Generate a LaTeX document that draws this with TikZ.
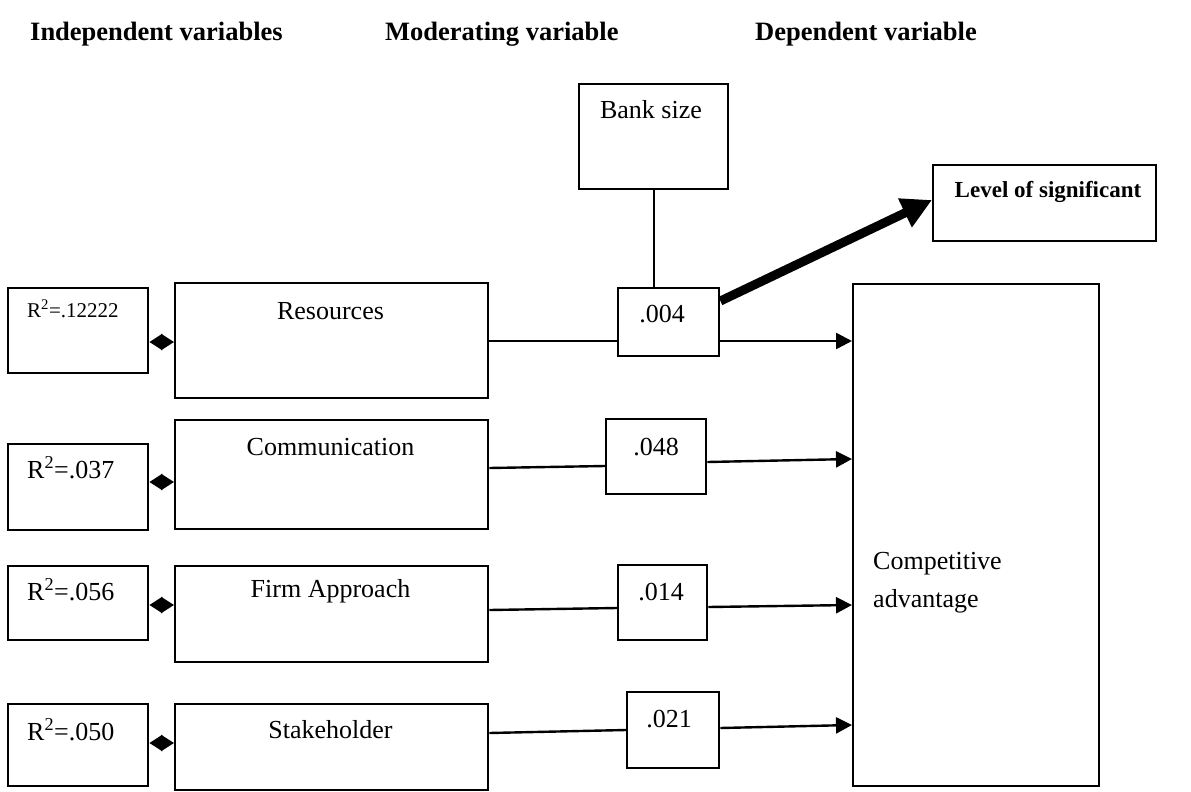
\documentclass[tikz,border=0pt]{standalone}
\usepackage{fontspec}
\setmainfont{Liberation Serif}
\usetikzlibrary{arrows.meta,calc}
\begin{document}
\begin{tikzpicture}[x=1pt,y=-1pt,
 box/.style={draw, line width=2.4pt, inner sep=0pt, anchor=north west},
 txt/.style={inner sep=0pt, anchor=base, font=\fontsize{26}{31}\selectfont},
 rtxt/.style={inner sep=0pt, anchor=base west, font=\fontsize{26}{31}\selectfont},
 head/.style={inner sep=0pt, anchor=base west, font=\fontsize{26.5}{32}\selectfont\bfseries},
 conn/.style={line width=2.4pt},
 arr/.style={line width=2.4pt, -{Triangle[length=16pt,width=16pt]}},
 dia/.style={line width=2.4pt, {Triangle[length=13pt,width=16pt]}-{Triangle[length=13pt,width=16pt]}},
 big/.style={line width=9pt, -{Triangle[length=30pt,width=30pt]}}]

\useasboundingbox (0,0) rectangle (1191,792);

% headings
\node[head] (h1) at (30,41) {Independent variables};
\node[head] (h2) at (385,41) {Moderating variable};
\node[head] (h3) at (755,41) {Dependent variable};

% R^2 boxes
\node[box, minimum width=140pt, minimum height=85pt] (r1) at (7,287) {};
\node[box, minimum width=140pt, minimum height=86pt] (r2) at (7,443) {};
\node[box, minimum width=140pt, minimum height=74pt] (r3) at (7,565) {};
\node[box, minimum width=140pt, minimum height=82pt] (r4) at (7,703) {};

% main boxes
\node[box, minimum width=313pt, minimum height=115pt] (res) at (174,282) {};
\node[box, minimum width=313pt, minimum height=109pt] (com) at (174,419) {};
\node[box, minimum width=313pt, minimum height=96pt] (fa) at (174,565) {};
\node[box, minimum width=313pt, minimum height=86pt] (st) at (174,703) {};

% value boxes
\node[box, minimum width=101pt, minimum height=68pt] (b004) at (617,287) {};
\node[box, minimum width=100pt, minimum height=75pt] (b048) at (605,418) {};
\node[box, minimum width=89pt, minimum height=75pt] (b014) at (617,564) {};
\node[box, minimum width=92pt, minimum height=76pt] (b021) at (626,691) {};

% other boxes
\node[box, minimum width=149pt, minimum height=105pt] (bank) at (578,83) {};
\node[box, minimum width=223pt, minimum height=76pt] (lev) at (932,164) {};
\node[box, minimum width=246pt, minimum height=502pt] (comp) at (852,283) {};

% texts
\node[rtxt, font=\fontsize{21}{25}\selectfont] (t1) at (27,317) {R\textsuperscript{2}=.12222};
\node[rtxt] (t2) at (27,478) {R\textsuperscript{2}=.037};
\node[rtxt] (t3) at (27,600) {R\textsuperscript{2}=.056};
\node[rtxt] (t4) at (27,740) {R\textsuperscript{2}=.050};

\node[txt] (tres) at (330.5,319) {Resources};
\node[txt] (tcom) at (330.5,455) {Communication};
\node[txt] (tfa) at (330.5,597) {Firm Approach};
\node[txt] (tst) at (330.5,738) {Stakeholder};

\node[txt] (v1) at (662,322) {.004};
\node[txt] (v2) at (656,455) {.048};
\node[txt] (v3) at (661,600) {.014};
\node[txt] (v4) at (669,727) {.021};

\node[txt] (tbank) at (651,118) {Bank size};
\node[txt, font=\fontsize{23}{27}\selectfont\bfseries] (tlev) at (1048,197) {Level of significant};
\node[rtxt] (tc1) at (873,569) {Competitive};
\node[rtxt] (tc2) at (873,607) {advantage};

% diamonds
\draw[dia] (r1.east |- 0,342) -- (res.west |- 0,342);
\draw[dia] (r2.east |- 0,482) -- (com.west |- 0,482);
\draw[dia] (r3.east |- 0,605) -- (fa.west |- 0,605);
\draw[dia] (r4.east |- 0,743) -- (st.west |- 0,743);

% row connectors
\draw[conn] (res.east |- 0,341) -- (b004.west |- 0,341);
\draw[arr] (b004.east |- 0,341) -- (comp.west |- 0,341);

\draw[conn] (com.east |- 0,468) -- (b048.west |- 0,466);
\draw[arr] (b048.east |- 0,462) -- (comp.west |- 0,459);

\draw[conn] (fa.east |- 0,610) -- (b014.west |- 0,608);
\draw[arr] (b014.east |- 0,607) -- (comp.west |- 0,605);

\draw[conn] (st.east |- 0,733) -- (b021.west |- 0,730);
\draw[arr] (b021.east |- 0,728) -- (comp.west |- 0,725);

% moderator
\draw[conn] (bank.south) -- (bank.south |- b004.north);

% thick arrow to level box
\draw[big] (b004.east |- 0,301) -- (lev.west |- 0,200);

\end{tikzpicture}
\end{document}
